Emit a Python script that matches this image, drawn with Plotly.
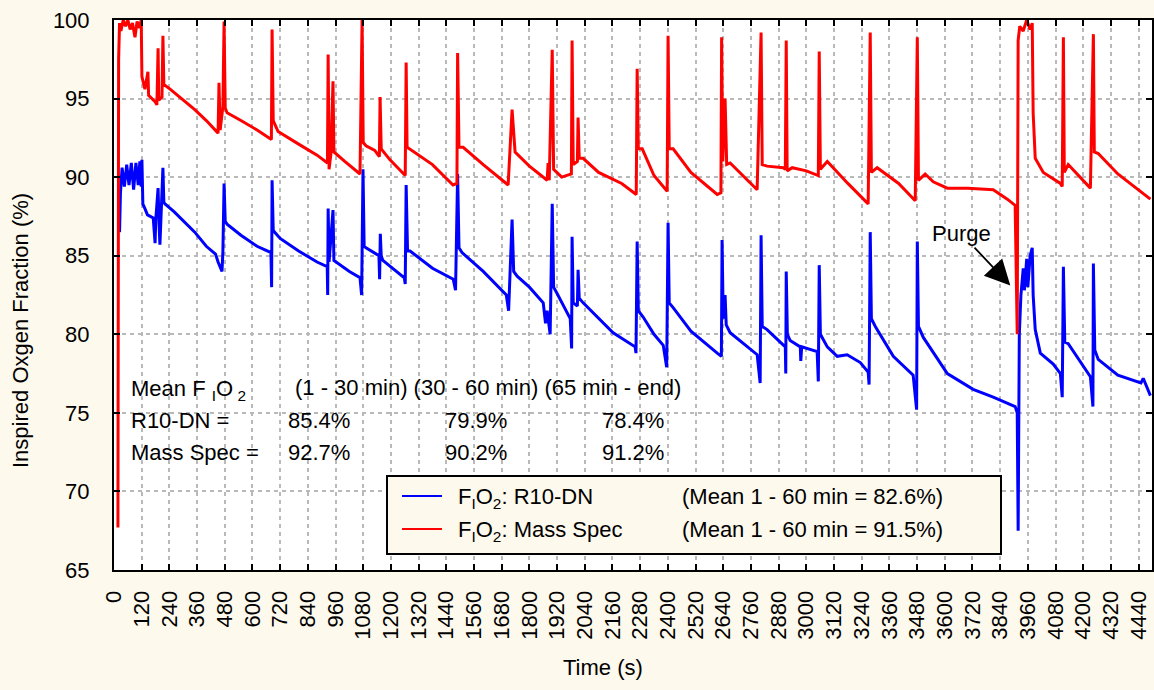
import plotly.graph_objects as go

# ---- data ------------------------------------------------------------------
r10dn_t = [24, 28, 35, 45, 55, 65, 75, 85, 95, 105, 112, 118, 121, 125, 134, 145, 170, 178, 181, 191,
           195, 199, 203, 212, 216, 221, 260, 300, 350, 400, 440, 451, 468, 472, 477, 482, 490, 550,
           620, 680, 683, 685, 690, 720, 800, 880, 924, 926, 928, 932, 949, 953, 962, 1020, 1066,
           1073, 1079, 1084, 1092, 1148, 1151, 1154, 1158, 1165, 1258, 1262, 1266, 1272, 1283, 1380,
           1470, 1480, 1489, 1495, 1508, 1600, 1700, 1710, 1725, 1732, 1747, 1800, 1860, 1870, 1877,
           1890, 1899, 1905, 1920, 1977, 1983, 1985, 1990, 2008, 2011, 2016, 2033, 2100, 2163, 2258,
           2262, 2267, 2272, 2293, 2340, 2380, 2395, 2401, 2406, 2423, 2500, 2614, 2632, 2635, 2640,
           2648, 2653, 2670, 2787, 2800, 2804, 2809, 2830, 2887, 2909, 2911, 2913, 2918, 2930, 2974,
           2976, 2980, 3047, 3052, 3056, 3061, 3091, 3134, 3177, 3234, 3268, 3272, 3277, 3282, 3299,
           3377, 3463, 3478, 3481, 3486, 3507, 3611, 3723, 3810, 3905, 3914, 3918, 3923, 3930, 3940,
           3945, 3955, 3960, 3970, 3979, 3983, 3992, 4014, 4070, 4101, 4109, 4114, 4120, 4135, 4231,
           4242, 4244, 4250, 4265, 4350, 4450, 4460, 4491]
r10dn_pct = [86.5, 89.0, 90.6, 89.4, 90.8, 89.5, 90.9, 89.2, 90.9, 89.5, 91.0, 89.4, 91.1, 88.3, 88.0,
             87.6, 87.4, 85.8, 87.3, 89.3, 87.1, 85.7, 87.2, 90.6, 88.4, 88.3, 87.8, 87.2, 86.5, 85.6,
             85.1, 84.6, 84.0, 85.3, 89.6, 87.2, 87.0, 86.3, 85.6, 85.2, 83.0, 89.8, 86.6, 86.1, 85.3,
             84.6, 84.3, 82.5, 88.0, 84.6, 87.9, 84.7, 84.6, 84.0, 83.6, 82.5, 90.5, 85.6, 85.5, 85.0,
             83.5, 86.4, 85.0, 84.7, 83.6, 83.2, 89.5, 85.3, 85.3, 84.2, 83.5, 82.8, 90.2, 85.5, 85.2,
             84.0, 82.5, 81.5, 87.3, 84.0, 83.7, 83.0, 82.0, 80.7, 81.5, 80.0, 88.3, 83.0, 82.6, 81.0,
             79.1, 86.2, 82.0, 81.8, 84.1, 82.3, 82.0, 81.0, 80.1, 79.2, 78.8, 85.9, 81.5, 81.1, 80.0,
             79.3, 77.9, 87.1, 82.0, 81.7, 80.2, 78.8, 78.6, 86.0, 81.0, 82.5, 80.6, 80.1, 78.7, 76.9,
             86.3, 80.5, 80.3, 79.5, 79.2, 77.5, 84.0, 80.0, 79.6, 79.2, 78.3, 79.2, 78.9, 77.0, 84.4,
             80.0, 79.2, 78.6, 78.7, 78.2, 77.6, 76.8, 86.5, 81.0, 80.5, 78.6, 77.4, 75.2, 85.9, 80.5,
             79.8, 77.5, 76.5, 76.0, 75.4, 75.0, 67.5, 80.0, 82.5, 84.2, 82.8, 84.8, 83.0, 85.0, 85.5,
             82.5, 80.3, 78.8, 78.1, 77.5, 76.0, 84.3, 79.5, 79.4, 77.3, 75.4, 84.5, 79.0, 78.4, 77.4,
             76.9, 77.2, 76.1]

mass_spec_t = [17, 20, 24, 30, 40, 50, 60, 70, 80, 91, 100, 110, 118, 121, 134, 147, 150, 178, 186,
               191, 194, 208, 212, 216, 243, 300, 350, 400, 451, 455, 460, 472, 477, 482, 490, 550,
               620, 682, 685, 690, 711, 800, 880, 925, 928, 932, 940, 949, 953, 1000, 1066, 1075,
               1080, 1092, 1130, 1150, 1153, 1158, 1196, 1262, 1266, 1270, 1300, 1380, 1469, 1486,
               1489, 1495, 1513, 1600, 1708, 1725, 1738, 1800, 1877, 1881, 1886, 1899, 1905, 1940,
               1982, 1985, 1990, 2008, 2011, 2016, 2033, 2100, 2200, 2263, 2267, 2272, 2289, 2340,
               2397, 2401, 2406, 2423, 2500, 2614, 2630, 2633, 2638, 2648, 2655, 2670, 2787, 2804,
               2809, 2830, 2900, 2909, 2913, 2917, 2939, 3000, 3052, 3056, 3061, 3091, 3180, 3268,
               3277, 3282, 3307, 3400, 3472, 3481, 3486, 3515, 3550, 3611, 3700, 3810, 3871, 3905,
               3914, 3918, 3925, 3940, 3955, 3970, 3979, 3983, 3992, 4014, 4027, 4101, 4109, 4114,
               4118, 4135, 4231, 4244, 4248, 4265, 4350, 4491]
mass_spec_pct = [67.7, 97.5, 99.8, 99.3, 100.0, 99.6, 100.0, 99.4, 99.8, 98.9, 99.9, 99.5, 100.0,
                 96.4, 95.6, 96.7, 95.2, 94.8, 94.6, 98.2, 94.9, 95.1, 99.0, 95.9, 95.6, 94.9, 94.3,
                 93.6, 92.8, 96.0, 93.0, 94.5, 99.9, 94.4, 94.1, 93.6, 93.0, 92.4, 99.4, 93.6, 92.9,
                 92.1, 91.4, 90.9, 97.8, 90.5, 91.5, 96.1, 91.6, 91.0, 90.2, 100.0, 92.2, 92.0, 91.7,
                 91.3, 95.1, 91.8, 91.1, 90.1, 97.3, 91.9, 91.6, 90.8, 89.5, 89.6, 97.9, 91.9, 91.9,
                 90.8, 89.5, 94.3, 91.6, 90.7, 89.8, 90.9, 89.8, 98.1, 90.5, 90.0, 90.2, 98.7, 90.8,
                 91.0, 93.8, 91.2, 91.2, 90.3, 89.6, 88.9, 96.9, 91.8, 91.8, 90.1, 89.1, 99.0, 91.8,
                 91.8, 90.3, 88.9, 89.0, 98.9, 91.0, 95.0, 90.8, 90.9, 89.2, 99.2, 90.8, 90.7, 90.6,
                 90.5, 98.7, 90.4, 90.6, 90.4, 90.1, 98.0, 90.5, 91.0, 89.6, 88.3, 99.2, 90.3, 90.6,
                 89.6, 88.5, 98.9, 89.8, 90.2, 89.7, 89.3, 89.3, 89.2, 88.6, 88.2, 80.0, 98.7, 99.6,
                 99.3, 100.0, 99.4, 99.8, 94.1, 91.2, 90.6, 90.3, 89.6, 89.4, 98.9, 90.3, 90.8, 89.3,
                 99.1, 91.6, 91.5, 90.2, 88.6]

x_ticks = list(range(0, 4441, 120))
y_ticks = [65, 70, 75, 80, 85, 90, 95, 100]

period_labels = "(1 - 30 min) (30 - 60 min) (65 min - end)"
row_labels = ["R10-DN =", "Mass Spec ="]
period_means = [["85.4%", "79.9%", "78.4%"], ["92.7%", "90.2%", "91.2%"]]
legend_names = ["F<sub>I</sub>O<sub>2</sub>: R10-DN", "F<sub>I</sub>O<sub>2</sub>: Mass Spec"]
legend_means = ["(Mean 1 - 60 min = 82.6%)", "(Mean 1 - 60 min = 91.5%)"]
colors = ["#0000ff", "#ff0000"]

# ---- layout helpers (pixel -> paper) -----------------------------------------
W, H = 1154, 690
L, R, T, B = 114, 2, 20, 120
pw, ph = W - L - R, H - T - B


def px(x):
    return (x - L) / pw


def py(y):
    return (H - B - y) / ph


font = "Arial, Liberation Sans, sans-serif"
bg = "#fdf9ec"

fig = go.Figure()
fig.add_trace(go.Scatter(x=r10dn_t, y=r10dn_pct, mode="lines", name="R10-DN",
                         line=dict(color=colors[0], width=3), showlegend=False))
fig.add_trace(go.Scatter(x=mass_spec_t, y=mass_spec_pct, mode="lines", name="Mass Spec",
                         line=dict(color=colors[1], width=3), showlegend=False))

shapes = []
annotations = []

# white panel behind the mean table
shapes.append(dict(type="rect", xref="paper", yref="paper", x0=px(121), x1=px(760), y0=py(475), y1=py(368),
                   fillcolor="white", line=dict(width=0), layer="between"))

tf = dict(family=font, size=22, color="black")
annotations.append(dict(xref="paper", yref="paper", x=px(129), y=py(390), xanchor="left", yanchor="middle",
                        text="Mean F <sub>I</sub>O<sub> 2</sub>", showarrow=False, font=tf))
annotations.append(dict(xref="paper", yref="paper", x=px(293), y=py(387), xanchor="left", yanchor="middle",
                        text=period_labels, showarrow=False, font=tf))
for i, lab in enumerate(row_labels):
    yy = py(421 + 31 * i)
    annotations.append(dict(xref="paper", yref="paper", x=px(129), y=yy, xanchor="left", yanchor="middle",
                            text=lab, showarrow=False, font=tf))
    for j, val in enumerate(period_means[i]):
        annotations.append(dict(xref="paper", yref="paper", x=px(286 + 157 * j), y=yy, xanchor="left",
                                yanchor="middle", text=val, showarrow=False, font=tf))

# legend box
shapes.append(dict(type="rect", xref="paper", yref="paper", x0=px(387), x1=px(1001), y0=py(554), y1=py(476),
                   fillcolor=bg, line=dict(color="black", width=2), layer="above"))
for i in range(2):
    yy = py(496 + 33 * i)
    shapes.append(dict(type="line", xref="paper", yref="paper", x0=px(402), x1=px(442), y0=yy, y1=yy,
                       line=dict(color=colors[i], width=2), layer="above"))
    annotations.append(dict(xref="paper", yref="paper", x=px(456), y=py(498 + 33 * i), xanchor="left",
                            yanchor="middle", text=legend_names[i], showarrow=False, font=tf))
    annotations.append(dict(xref="paper", yref="paper", x=px(680), y=yy, xanchor="left",
                            yanchor="middle", text=legend_means[i], showarrow=False, font=tf))

# axis titles
annotations.append(dict(xref="paper", yref="paper", x=px(603), y=py(667), xanchor="center", yanchor="middle",
                        text="Time (s)", showarrow=False, font=tf))
annotations.append(dict(xref="paper", yref="paper", x=px(20), y=py(331), xanchor="center", yanchor="middle",
                        text="Inspired Oxgen Fraction (%)", textangle=-90, showarrow=False, font=tf))

# purge arrow
annotations.append(dict(x=3884, y=83.1, xref="x", yref="y", ax=-49, ay=-52, text="Purge",
                        showarrow=True, arrowhead=2, arrowsize=2.8, arrowwidth=1.8, arrowcolor="black",
                        font=tf))

fig.update_layout(
    width=W, height=H,
    margin=dict(l=L, r=R, t=T, b=B),
    paper_bgcolor=bg, plot_bgcolor="white",
    font=dict(family=font, size=22, color="black"),
    shapes=shapes, annotations=annotations,
    xaxis=dict(range=[0, 4498], tickvals=x_ticks, tickangle=-90, ticks="inside", ticklen=6,
               tickwidth=2, tickcolor="black", showline=True, linecolor="black", linewidth=2,
               mirror="ticks", showgrid=True, gridcolor="#b9b9b9", gridwidth=1.5, griddash="4px,4px",
               zeroline=False, ticklabelstandoff=10, tickfont=dict(size=22), automargin=False),
    yaxis=dict(range=[65, 100], tickvals=y_ticks, ticks="inside", ticklen=6, tickwidth=2,
               tickcolor="black", showline=True, linecolor="black", linewidth=2, mirror="ticks",
               showgrid=True, gridcolor="#b9b9b9", gridwidth=1.5, griddash="4px,4px", zeroline=False,
               ticklabelstandoff=18, tickfont=dict(size=22), automargin=False),
)

# the page's default body margin would shift the fixed-size figure
fig.write_html("out.html", config={"displayModeBar": False},
               post_script="document.body.style.margin='0';")
